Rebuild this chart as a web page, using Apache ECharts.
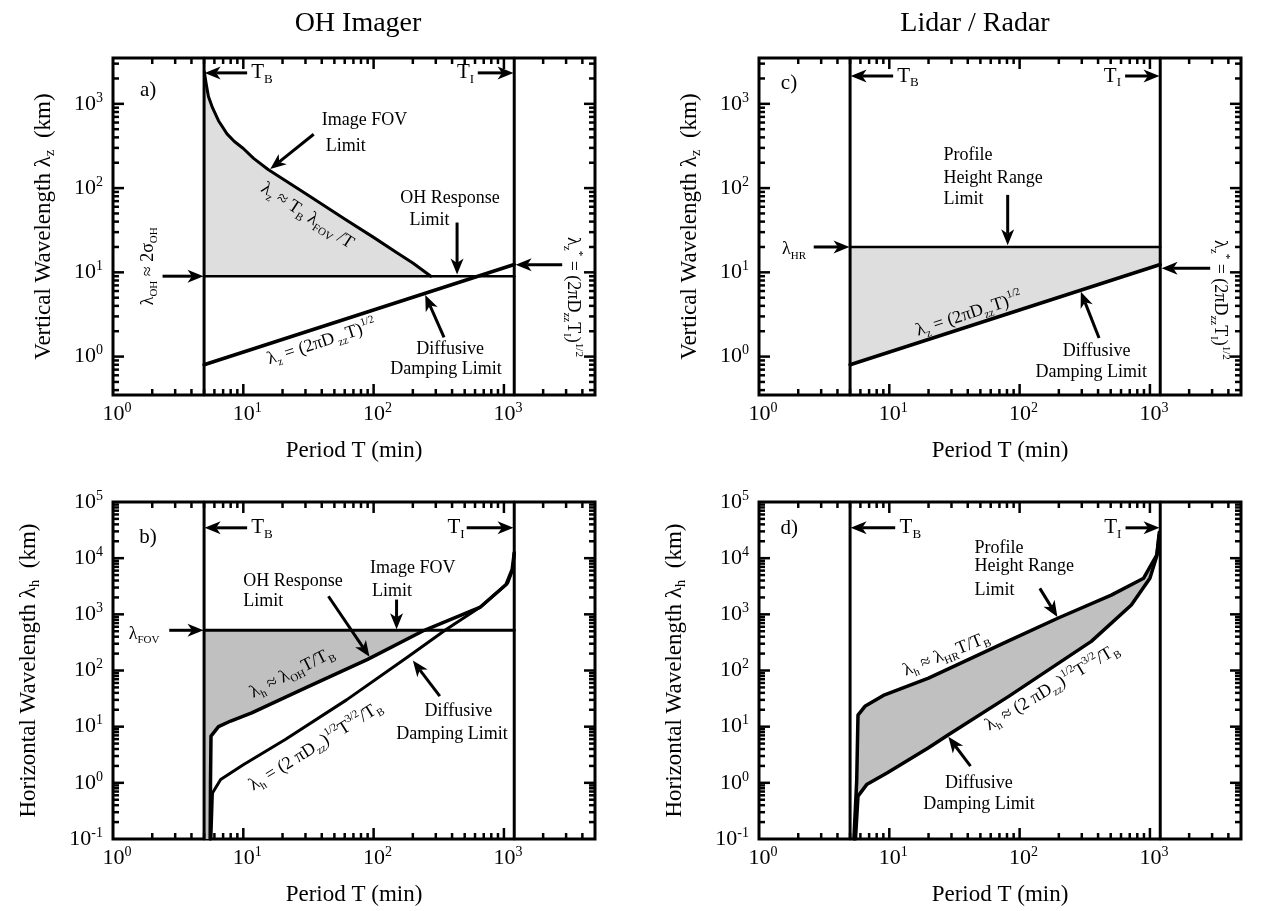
<!DOCTYPE html>
<html><head><meta charset="utf-8">
<script src="https://cdn.jsdelivr.net/npm/echarts@6/dist/echarts.min.js"></script>
<style>html,body{margin:0;padding:0;background:#fff}#c{width:1273px;height:911px}</style>
</head><body><div id="c"></div>
<script>
// ---------------- data ----------------
const T_B = 5;          // Brunt-Vaisala period (min)
const T_I = 1200;       // inertial period (min)
const xRange = [1, 5000];
const yRangeZ = [0.35, 3500];     // vertical wavelength panels (a, c)
const yRangeH = [0.1, 100000];    // horizontal wavelength panels (b, d)
const xTickLabels = [1, 10, 100, 1000];
const yTickLabelsZ = [1, 10, 100, 1000];
const yTickLabelsH = [0.1, 1, 10, 100, 1000, 10000, 100000];

// panel a : OH imager, vertical wavelength
const a_fovCurve = [[5.02,2400],[5.2,1700],[5.4,1220],[5.8,900],[6.45,630],[7.5,440],[8.5,360],[10,295],[12,225],[15.5,166],[30,86],[60,43],[100,26],[150,17.2],[200,12.9],[275,9]];
const a_ohLine = [[5,9],[1200,9]];
const diffusiveZ = [[5,0.8],[1200,12.4]];
// panel c : lidar/radar, vertical wavelength
const c_hrLine = [[5,20],[1200,20]];
// panel b : OH imager, horizontal wavelength
const b_fovLine = [[5,520],[1200,520]];
const b_ohCurve = [[5.57,0.1],[5.6,1],[5.65,6.8],[6.45,10],[8,12.6],[11.6,17.6],[30,49],[90,158],[245,520],[660,1350],[1040,3400],[1157,6300],[1200,12500]];
const b_diffCurve = [[5.65,0.1],[5.8,0.66],[6.7,1.15],[10,2.1],[21,5.9],[62,30],[186,180],[360,537],[660,1350],[1070,3600],[1170,6300],[1200,12500]];
// panel d : lidar/radar, horizontal wavelength
const d_hrCurve = [[5.35,0.1],[5.62,1.07],[5.75,16],[6.5,23],[9,36],[20,73],[83,340],[198,860],[505,2200],[895,4400],[1130,11500],[1180,29000]];
const d_diffCurve = [[5.5,0.1],[5.75,0.58],[6.7,0.93],[9.6,1.5],[20,4.2],[28.4,7.2],[83,35],[355,330],[720,1470],[1000,4370],[1130,11000],[1180,26000]];

// ---------------- chart ----------------
const FONT = '"Liberation Serif","Times New Roman",serif';
const chart = echarts.init(document.getElementById('c'), null, {renderer:'canvas'});

const GRIDS = [
  {left:113, top:58,  width:482, height:337}, // a
  {left:113, top:502, width:482, height:337}, // b
  {left:759, top:58,  width:482, height:337}, // c
  {left:759, top:502, width:482, height:337}  // d
];
const YR = [yRangeZ, yRangeH, yRangeZ, yRangeH];
const YLBL = [yTickLabelsZ, yTickLabelsH, yTickLabelsZ, yTickLabelsH];

function isIn(v, arr){ return arr.some(a => Math.abs(Math.log10(v) - Math.log10(a)) < 1e-4); }
function labelFmt(arr){
  return v => {
    if (!isIn(v, arr)) return '';
    const e = Math.round(Math.log10(v));
    return '{n|10}{s|' + e + '}';
  };
}
function logTicks(lo, hi){
  const maj = [], min = [];
  for (let e = -2; e <= 6; e++) for (let m = 1; m <= 9; m++) {
    const v = +(m * Math.pow(10, e)).toPrecision(6);
    if (v <= lo * 1.0001 || v >= hi * 0.9999) continue;
    (m === 1 ? maj : min).push(v);
  }
  return {maj, min};
}

const grid = GRIDS.map(g => Object.assign({show:true, borderWidth:3, borderColor:'#000', backgroundColor:'rgba(0,0,0,0)', containLabel:false, outerBoundsMode:'none'}, g));
const xAxis = GRIDS.map((g,i) => ({
  type:'log', logBase:10, gridIndex:i, min:xRange[0], max:xRange[1], splitNumber:4,
  axisLine:{show:false}, axisTick:{show:false}, splitLine:{show:false}, minorTick:{show:false},
  axisLabel:{show:true, margin:6, showMinLabel:true, showMaxLabel:false, formatter: labelFmt(xTickLabels),
    color:'#000', fontFamily:FONT, fontSize:22, lineHeight:26,
    rich:{n:{fontFamily:FONT, fontSize:22, color:'#000', padding:[0,0,0,8], lineHeight:26},
          s:{fontFamily:FONT, fontSize:14, color:'#000', verticalAlign:'top', lineHeight:14}}},
  name:'Period T (min)', nameLocation:'middle', nameGap:44,
  nameTextStyle:{fontFamily:FONT, fontSize:23, color:'#000'}
}));
const yAxis = GRIDS.map((g,i) => ({
  type:'log', logBase:10, gridIndex:i, min:YR[i][0], max:YR[i][1], splitNumber: (i%2===0 ? 4 : 6),
  axisLine:{show:false}, axisTick:{show:false}, splitLine:{show:false}, minorTick:{show:false},
  axisLabel:{show:true, margin:10, showMinLabel:true, showMaxLabel:true, formatter: labelFmt(YLBL[i]),
    color:'#000', fontFamily:FONT, fontSize:22, lineHeight:26,
    rich:{n:{fontFamily:FONT, fontSize:22, color:'#000', lineHeight:26},
          s:{fontFamily:FONT, fontSize:14, color:'#000', verticalAlign:'top', lineHeight:14}}},
  name: i%2===0 ? 'Vertical Wavelength λ{sb|z}  (km)' : 'Horizontal Wavelength λ{sb|h}  (km)',
  nameLocation:'middle', nameRotate:90, nameGap: i%2===0 ? 55 : 70,
  nameTextStyle:{fontFamily:FONT, fontSize:23, color:'#000', lineHeight:28,
    rich:{sb:{fontFamily:FONT, fontSize:15, color:'#000', verticalAlign:'bottom', lineHeight:16}}}
}));

function lineS(gi, data, w){
  return {type:'line', xAxisIndex:gi, yAxisIndex:gi, data, symbol:'none', showSymbol:false, silent:true,
    lineStyle:{color:'#000', width:w||3, join:'round', cap:'round'}, z:4, animation:false, clip:true};
}
function vline(gi, T){ return lineS(gi, [[T, YR[gi][0]], [T, YR[gi][1]]], 3); }
function polyS(gi, pts, color){
  return {type:'custom', xAxisIndex:gi, yAxisIndex:gi, silent:true, z:2, animation:false,
    data:[pts[0]],
    renderItem:(params, api) => ({type:'polygon', shape:{points: pts.map(p => api.coord(p))}, style:{fill:color}})};
}
function tickS(gi){
  const xt = logTicks(xRange[0], xRange[1]);
  const yt = logTicks(YR[gi][0], YR[gi][1]);
  const items = [];
  xt.maj.forEach(v => items.push({ax:'x', v, len:11}));
  xt.min.forEach(v => items.push({ax:'x', v, len:6}));
  yt.maj.forEach(v => items.push({ax:'y', v, len:11}));
  yt.min.forEach(v => items.push({ax:'y', v, len:6}));
  const y0 = YR[gi][0], x0 = xRange[0];
  return {type:'custom', xAxisIndex:gi, yAxisIndex:gi, silent:true, z:6, animation:false,
    data: items.map(t => t.ax === 'x' ? [t.v, y0] : [x0, t.v]),
    renderItem:(params, api) => {
      const t = items[params.dataIndex];
      const cs = params.coordSys;
      const st = {stroke:'#000', lineWidth:2.5};
      if (t.ax === 'x') {
        const px = api.coord([t.v, y0])[0];
        const yb = cs.y + cs.height, yt2 = cs.y;
        return {type:'group', children:[
          {type:'line', shape:{x1:px, y1:yb, x2:px, y2:yb - t.len}, style:st},
          {type:'line', shape:{x1:px, y1:yt2, x2:px, y2:yt2 + t.len}, style:st}]};
      } else {
        const py = api.coord([x0, t.v])[1];
        const xl = cs.x, xr = cs.x + cs.width;
        return {type:'group', children:[
          {type:'line', shape:{x1:xl, y1:py, x2:xl + t.len, y2:py}, style:st},
          {type:'line', shape:{x1:xr, y1:py, x2:xr - t.len, y2:py}, style:st}]};
      }
    }};
}

const LIGHT = '#dedede', DARK = '#c0c0c0';
const shadeA = a_fovCurve.concat([[T_B, a_ohLine[0][1]], [T_B, a_fovCurve[0][1]]]);
const shadeC = c_hrLine.concat(diffusiveZ.slice().reverse());
const shadeB = [[T_B, yRangeH[0]], [T_B, b_fovLine[0][1]]].concat(b_ohCurve.filter(p => p[1] <= b_fovLine[0][1]).reverse());
const shadeD = d_hrCurve.concat(d_diffCurve.slice().reverse());

const series = [
  polyS(0, shadeA, LIGHT), polyS(2, shadeC, LIGHT), polyS(1, shadeB, DARK), polyS(3, shadeD, DARK),
  // a
  vline(0, T_B), vline(0, T_I), lineS(0, a_fovCurve), lineS(0, a_ohLine, 2.5), lineS(0, diffusiveZ, 3.5),
  // b
  vline(1, T_B), vline(1, T_I), lineS(1, b_fovLine), lineS(1, b_ohCurve, 3.5), lineS(1, b_diffCurve),
  // c
  vline(2, T_B), vline(2, T_I), lineS(2, c_hrLine, 2.5), lineS(2, diffusiveZ, 3.5),
  // d
  vline(3, T_B), vline(3, T_I), lineS(3, d_hrCurve, 3.5), lineS(3, d_diffCurve, 3.5),
  tickS(0), tickS(1), tickS(2), tickS(3)
];

chart.setOption({animation:false, backgroundColor:'#fff', grid, xAxis, yAxis, series});

// ---------------- annotations ----------------
const P = (gi, T, l) => chart.convertToPixel({gridIndex:gi}, [T, l]);
function RICH(F){
  const s = Math.round(F * 0.62), lh = Math.round(F * 0.7);
  return {sb:{fontFamily:FONT, fontSize:s, fill:'#000', verticalAlign:'bottom', lineHeight:lh},
          sp:{fontFamily:FONT, fontSize:s, fill:'#000', verticalAlign:'top', lineHeight:lh}};
}
function txt(gi, text, T, l, o){
  o = o || {};
  const F = o.size || 18;
  const p = P(gi, T, l);
  return {type:'text', x:p[0], y:p[1], rotation:(o.rot || 0) * Math.PI / 180, z:100, silent:true,
    style:{text, fontFamily:FONT, fontSize:F, fill:'#000', align:o.align || 'center', verticalAlign:'middle',
      lineHeight:Math.round(F * 1.25), rich:RICH(F)}};
}
function arrow(gi, T1, l1, T2, l2){
  const a = P(gi, T1, l1), b = P(gi, T2, l2);
  const dx = b[0] - a[0], dy = b[1] - a[1], L = Math.hypot(dx, dy);
  const ux = dx / L, uy = dy / L, nx = -uy, ny = ux;
  const h = 16, w = 6.5;
  const bx = b[0] - ux * h, by = b[1] - uy * h;
  const notch = [b[0] - ux * h * 0.72, b[1] - uy * h * 0.72];
  return [
    {type:'line', z:99, silent:true, shape:{x1:a[0], y1:a[1], x2:notch[0], y2:notch[1]}, style:{stroke:'#000', lineWidth:3}},
    {type:'polygon', z:99, silent:true, shape:{points:[b, [bx + nx * w, by + ny * w], notch, [bx - nx * w, by - ny * w]]}, style:{fill:'#000'}}
  ];
}

const TEXTS = [
  // panel a
  [0,'a)',1.86,1450,{size:21}],
  [0,'T{sb|B}',11.5,2330,{size:21,align:'left'}],
  [0,'T{sb|I}',590,2330,{size:21,align:'right'}],
  [0,'Image FOV',40,631,{align:'left'}],
  [0,'Limit',43,314,{align:'left'}],
  [0,'λ{sb|z} ≈ T{sb|B} λ{sb|FOV} /T',31,47,{rot:-33}],
  [0,'OH Response',386,75],
  [0,'Limit',268,41],
  [0,'λ{sb|OH} ≈ 2σ{sb|OH}',1.86,11.8,{rot:90}],
  [0,'λ{sb|z} = (2πD{sb| zz}T){sp|1/2}',40,1.48,{rot:18}],
  [0,'Diffusive',386,1.22],
  [0,'Damping Limit',360,0.70],
  [0,'λ{sb|z}{sp|*} = (2πD{sb|zz}T{sb|I}){sp|1/2}',3400,5.1,{rot:-90}],
  // panel b
  [1,'b)',1.86,23000,{size:21}],
  [1,'T{sb|B}',11.5,34700,{size:21,align:'left'}],
  [1,'T{sb|I}',500,34700,{size:21,align:'right'}],
  [1,'λ{sb|FOV}',1.73,437],
  [1,'OH Response',10,3900,{align:'left'}],
  [1,'Limit',10,1700,{align:'left'}],
  [1,'Image FOV',94,6700,{align:'left'}],
  [1,'Limit',97,2570,{align:'left'}],
  [1,'λ{sb|h} ≈ λ{sb|OH}T/T{sb|B}',23.7,91,{rot:27}],
  [1,'λ{sb|h} = (2 πD{sb|zz}){sp|1/2}T{sp|3/2}/T{sb|B}',36,4.5,{rot:32}],
  [1,'Diffusive',447,19],
  [1,'Damping Limit',400,7.3],
  // panel c
  [2,'c)',1.7,1740,{size:21}],
  [2,'T{sb|B}',11.5,2140,{size:21,align:'left'}],
  [2,'T{sb|I}',600,2140,{size:21,align:'right'}],
  [2,'Profile',26,245,{align:'left'}],
  [2,'Height Range',26,132,{align:'left'}],
  [2,'Limit',26,74,{align:'left'}],
  [2,'λ{sb|HR}',1.86,18.6],
  [2,'λ{sb|z} = (2πD{sb|zz}T){sp|1/2}',41,3.2,{rot:18}],
  [2,'Diffusive',390,1.15],
  [2,'Damping Limit',355,0.66],
  [2,'λ{sb|z}{sp|*} = (2πD{sb|zz}T{sb|I}){sp|1/2}',3450,4.7,{rot:-90}],
  // panel d
  [3,'d)',1.71,34000,{size:21}],
  [3,'T{sb|B}',12,34700,{size:21,align:'left'}],
  [3,'T{sb|I}',603,34700,{size:21,align:'right'}],
  [3,'Profile',45,14800,{align:'left'}],
  [3,'Height Range',45,7080,{align:'left'}],
  [3,'Limit',45,2690,{align:'left'}],
  [3,'λ{sb|h} ≈ λ{sb|HR}T/T{sb|B}',27.4,195,{rot:22}],
  [3,'λ{sb|h} ≈ (2 πD{sb|zz}){sp|1/2}T{sp|3/2}/T{sb|B}',178,50,{rot:31}],
  [3,'Diffusive',48.7,1.0],
  [3,'Damping Limit',48.7,0.41]
];
const ARROWS = [
  [0,10.7,2330,5.05,2330],[0,630,2330,1185,2330],[0,34.7,436,16.1,168],[0,437,39,437,9.4],
  [0,2.4,9,4.95,9],[0,347,1.69,249,5.4],[0,2800,12.3,1230,12.3],
  [1,10.7,34700,5.05,34700],[1,518,34700,1185,34700],[1,2.7,520,4.95,520],[1,45,2100,93,175],
  [1,150,1830,150,545],[1,322,35,200,150],
  [2,10.7,2140,5.05,2140],[2,645,2140,1185,2140],[2,81,83,81,21],[2,2.63,20,4.95,20],
  [2,407,1.66,295,5.9],[2,2900,11.2,1230,11.2],
  [3,11.1,34700,5.05,34700],[3,650,34700,1185,34700],[3,143,2900,195,900],[3,42,1.98,28.4,6.6]
];

const graphic = [];
TEXTS.forEach(t => graphic.push(txt(t[0], t[1], t[2], t[3], t[4])));
ARROWS.forEach(a => arrow(a[0], a[1], a[2], a[3], a[4]).forEach(e => graphic.push(e)));
graphic.push({type:'text', x:358, y:24, z:100, style:{text:'OH Imager', fontFamily:FONT, fontSize:28, fill:'#000', align:'center', verticalAlign:'middle'}});
graphic.push({type:'text', x:975, y:24, z:100, style:{text:'Lidar / Radar', fontFamily:FONT, fontSize:28, fill:'#000', align:'center', verticalAlign:'middle'}});
chart.setOption({graphic});
</script></body></html>
